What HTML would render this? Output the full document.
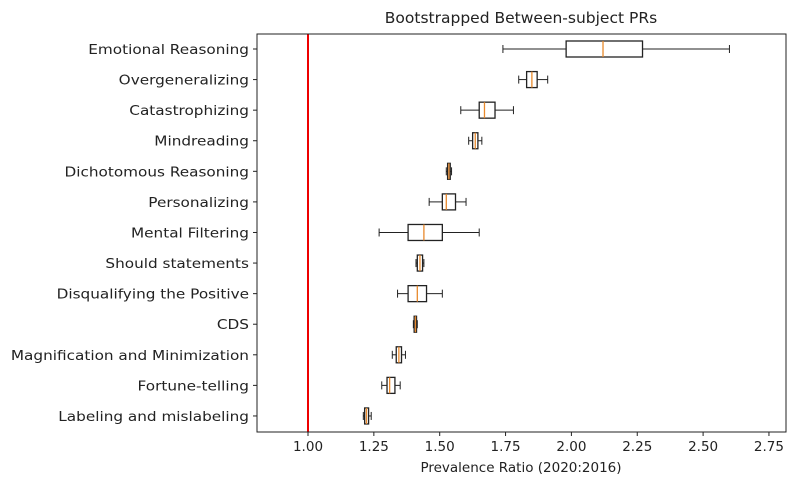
<!DOCTYPE html><html><head><style>body{margin:0;background:#fff}svg{display:block}text{font-family:"DejaVu Sans","Liberation Sans",sans-serif;fill:#222}</style></head><body>
<svg id="s" width="800" height="488" viewBox="0 0 800 488"></svg>
<script>
const X=v=>308+(v-1)*263.4;
const L=257,R=786,T=34,B=432;
let h='<rect x="0" y="0" width="800" height="488" fill="#fff"/>';
h+='<text x="521" y="23" font-size="15.5" text-anchor="middle">Bootstrapped Between-subject PRs</text>';
h+='<line x1="308" y1="'+T+'" x2="308" y2="'+B+'" stroke="#e00" stroke-width="2"/>';
const d=[
["Emotional Reasoning",1.74,1.98,2.12,2.27,2.60],
["Overgeneralizing",1.80,1.83,1.85,1.87,1.91],
["Catastrophizing",1.58,1.65,1.67,1.71,1.78],
["Mindreading",1.61,1.625,1.635,1.645,1.66],
["Dichotomous Reasoning",1.525,1.53,1.535,1.54,1.545],
["Personalizing",1.46,1.51,1.525,1.56,1.60],
["Mental Filtering",1.27,1.38,1.44,1.51,1.65],
["Should statements",1.41,1.415,1.425,1.435,1.44],
["Disqualifying the Positive",1.34,1.38,1.415,1.45,1.51],
["CDS",1.40,1.403,1.408,1.412,1.415],
["Magnification and Minimization",1.32,1.335,1.345,1.355,1.37],
["Fortune-telling",1.28,1.30,1.31,1.33,1.35],
["Labeling and mislabeling",1.21,1.215,1.222,1.23,1.24]];
d.forEach((r,i)=>{const y=49+i*30.58;const [n,a,q1,m,q3,b]=r;
h+=`<line x1="${L-4}" y1="${y}" x2="${L}" y2="${y}" stroke="#222"/>`;
h+=`<text x="${L-8}" y="${y+5}" font-size="13" text-anchor="end" textLength="${n.length*0}" >${n}</text>`.replace(' textLength="0" ','');
h+=`<line x1="${X(a)}" y1="${y}" x2="${X(q1)}" y2="${y}" stroke="#222"/><line x1="${X(q3)}" y1="${y}" x2="${X(b)}" y2="${y}" stroke="#222"/>`;
h+=`<line x1="${X(a)}" y1="${y-4}" x2="${X(a)}" y2="${y+4}" stroke="#222"/><line x1="${X(b)}" y1="${y-4}" x2="${X(b)}" y2="${y+4}" stroke="#222"/>`;
h+=`<rect x="${X(q1)}" y="${y-8}" width="${Math.max(X(q3)-X(q1),1)}" height="16" fill="#fff" stroke="#222" stroke-width="1.3"/>`;
h+=`<line x1="${X(m)}" y1="${y-8}" x2="${X(m)}" y2="${y+8}" stroke="#e8892c" stroke-width="1.3"/>`;});
h+=`<rect x="${L}" y="${T}" width="${R-L}" height="${B-T}" fill="none" stroke="#222" stroke-width="1"/>`;
for(let k=0;k<8;k++){const v=1+k*0.25,x=X(v);h+=`<line x1="${x}" y1="${B}" x2="${x}" y2="${B+4}" stroke="#222"/><text x="${x}" y="${B+19}" font-size="13.5" text-anchor="middle">${v.toFixed(2)}</text>`;}
h+='<text x="521" y="472" font-size="13.5" text-anchor="middle">Prevalence Ratio (2020:2016)</text>';
document.getElementById('s').innerHTML=h;
document.querySelectorAll('text[text-anchor="end"]').forEach(t=>{t.setAttribute('font-size','13.5');const w=t.getComputedTextLength();t.setAttribute('textLength',(w*1.13).toFixed(1));t.setAttribute('lengthAdjust','spacingAndGlyphs');});
</script></body></html>
